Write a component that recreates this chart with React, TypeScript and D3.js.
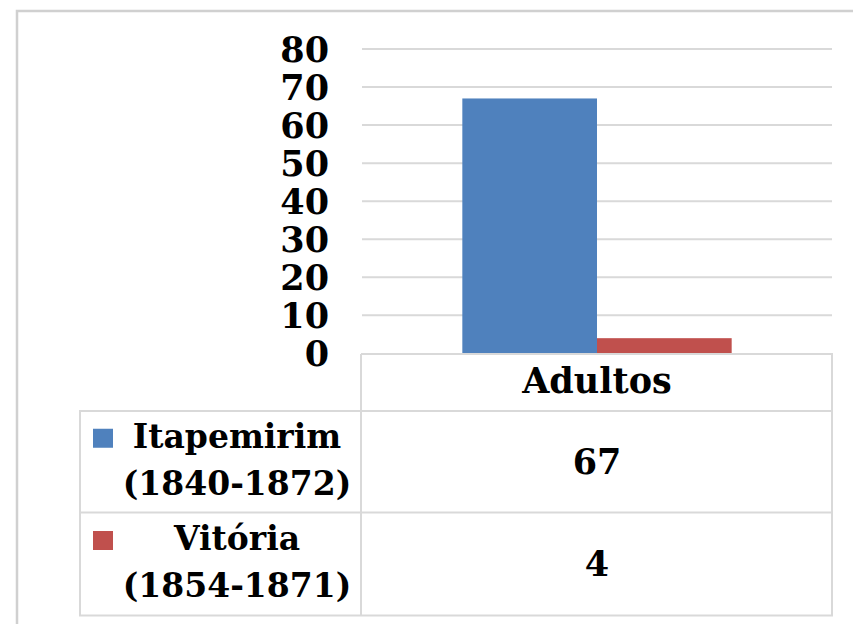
import React from "react";
import * as d3 from "d3";

const categories = ["Adultos"];
const seriesNames = ["Itapemirim (1840-1872)", "Vitória (1854-1871)"];
const seriesLabelLines = [["Itapemirim", "(1840-1872)"], ["Vitória", "(1854-1871)"]];
const seriesValues = [67, 4];
const seriesColors = ["#4F81BD", "#C0504D"];
const yTicks = [0, 10, 20, 30, 40, 50, 60, 70, 80];

const FONT = "'DejaVu Serif', 'Liberation Serif', serif";

export default function App() {
  const W = 853, H = 624;
  const plotLeft = 362, plotRight = 832;
  const y = d3.scaleLinear().domain([0, 80]).range([353.4, 49]);
  const x0 = d3.scaleBand<string>().domain(categories).range([plotLeft, plotRight]);
  const x1 = d3.scaleBand<string>().domain(seriesNames).range([0, x0.bandwidth()]).paddingInner(0).paddingOuter(0.745);

  const tableLeft = 80, tableDiv = 361, tableRight = 832;
  const headTop = 354, headBottom = 411, row1Bottom = 512.5, row2Bottom = 615.5;
  const rowBounds = [[headBottom, row1Bottom], [row1Bottom, row2Bottom]];
  const border = "#d9d9d9";

  return (
    <svg width={W} height={H} style={{ position: "absolute", left: 0, top: 0, background: "#fff" }}
      fontFamily={FONT} fontWeight="bold">
      <rect x={0} y={0} width={W} height={H} fill="#fff" />
      {/* outer frame */}
      <path d={`M17,${H + 5} V11 H${W + 5}`} fill="none" stroke="#d0d0d0" strokeWidth={2.5} />
      {/* gridlines */}
      {yTicks.filter(t => t > 0).map(t => (
        <line key={t} x1={plotLeft} x2={plotRight} y1={y(t)} y2={y(t)} stroke="#d9d9d9" strokeWidth={2} />
      ))}
      {/* tick labels */}
      {yTicks.map(t => (
        <text key={t} x={329} y={y(t) + 12.5} textAnchor="end" fontSize={35} fill="#000">{t}</text>
      ))}
      {/* bars */}
      {categories.map(c => (
        <g key={c}>
          {seriesNames.map((s, i) => (
            <rect key={s} x={x0(c)! + x1(s)!} width={x1.bandwidth()} y={y(seriesValues[i])}
              height={y(0) - y(seriesValues[i])} fill={seriesColors[i]} />
          ))}
        </g>
      ))}
      {/* data table */}
      <g fill="none" stroke={border} strokeWidth={2}>
        <path d={`M${tableDiv},${headTop} H${tableRight} V${row2Bottom} H${tableLeft} V${headBottom} H${tableRight}`} />
        <line x1={tableDiv} x2={tableDiv} y1={headTop} y2={row2Bottom} />
        <line x1={tableLeft} x2={tableRight} y1={row1Bottom} y2={row1Bottom} />
      </g>
      {categories.map(c => (
        <text key={c} x={x0(c)! + x0.bandwidth() / 2} y={393} textAnchor="middle" fontSize={35} fill="#000">{c}</text>
      ))}
      {seriesNames.map((s, i) => {
        const [top, bot] = rowBounds[i];
        const mid = (top + bot) / 2;
        return (
          <g key={s}>
            <rect x={93} y={mid - 33} width={20} height={19} fill={seriesColors[i]} />
            <text x={237} y={mid - 14} textAnchor="middle" fontSize={33} fill="#000">{seriesLabelLines[i][0]}</text>
            <text x={237} y={mid + 33} textAnchor="middle" fontSize={33} fill="#000">{seriesLabelLines[i][1]}</text>
            <text x={x0(categories[0])! + x0.bandwidth() / 2} y={mid + 12} textAnchor="middle" fontSize={35} fill="#000">{seriesValues[i]}</text>
          </g>
        );
      })}
    </svg>
  );
}
